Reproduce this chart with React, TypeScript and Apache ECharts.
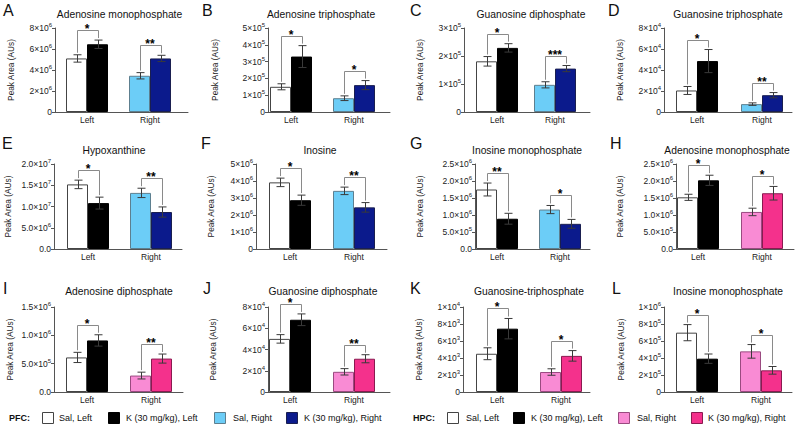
import React, { useEffect, useRef } from 'react';
import * as echarts from 'echarts';

// ---------- data ----------
const panelLetters = ['A', 'B', 'C', 'D', 'E', 'F', 'G', 'H', 'I', 'J', 'K', 'L'];
const panelTitles = [
  'Adenosine monophosphate', 'Adenosine triphosphate', 'Guanosine diphosphate', 'Guanosine triphosphate',
  'Hypoxanthine', 'Inosine', 'Inosine monophosphate', 'Adenosine monophosphate',
  'Adenosine diphosphate', 'Guanosine diphosphate', 'Guanosine-triphosphate', 'Inosine monophosphate',
];
// region per panel: PFC (blue) or HPC (pink)
const panelRegion = ['PFC', 'PFC', 'PFC', 'PFC', 'PFC', 'PFC', 'PFC', 'HPC', 'HPC', 'HPC', 'HPC', 'HPC'];
const categories = ['Left', 'Right'];

const salLeft = [5.1e6, 1.5e5, 1.81e5, 2.05e4, 1.52e7, 3.92e6, 1.75e6, 1.52e6, 6.1e5, 5.0e4, 4.5e3, 6.98e5];
const salLeftErr = [0.35e6, 0.18e5, 0.17e5, 0.38e4, 0.1e7, 0.25e6, 0.19e6, 0.09e6, 0.9e5, 0.4e4, 0.7e3, 0.95e5];
const kLeft = [6.45e6, 3.3e5, 2.29e5, 4.85e4, 1.08e7, 2.87e6, 0.89e6, 2.02e6, 9.1e5, 6.8e4, 7.45e3, 3.92e5];
const kLeftErr = [0.4e6, 0.65e5, 0.15e5, 1.1e4, 0.14e7, 0.3e6, 0.16e6, 0.15e6, 1.0e5, 0.55e4, 1.2e3, 0.55e5];
const salRight = [3.45e6, 0.82e5, 0.97e5, 0.75e4, 1.32e7, 3.42e6, 1.16e6, 1.09e6, 2.9e5, 1.9e4, 2.35e3, 4.78e5];
const salRightErr = [0.3e6, 0.14e5, 0.11e5, 0.12e4, 0.11e7, 0.22e6, 0.12e6, 0.11e6, 0.6e5, 0.3e4, 0.38e3, 0.8e5];
const kRight = [5.1e6, 1.6e5, 1.55e5, 1.6e4, 0.87e7, 2.45e6, 0.74e6, 1.64e6, 5.9e5, 3.13e4, 4.25e3, 2.55e5];
const kRightErr = [0.3e6, 0.27e5, 0.11e5, 0.25e4, 0.12e7, 0.28e6, 0.13e6, 0.2e6, 0.8e5, 0.38e4, 0.62e3, 0.45e5];

const starsLeft = [1, 1, 1, 1, 1, 1, 2, 1, 1, 1, 1, 1];
const starsRight = [2, 1, 3, 2, 2, 2, 1, 1, 2, 2, 1, 1];

const yMax = [8e6, 5e5, 3e5, 8e4, 2e7, 5e6, 2.5e6, 2.5e6, 1.5e6, 8e4, 1e4, 1e6];
const yInterval = [2e6, 1e5, 1e5, 2e4, 5e6, 1e6, 5e5, 5e5, 5e5, 2e4, 2e3, 2e5];
const tickLabels = [
  ['0', '2×10^6', '4×10^6', '6×10^6', '8×10^6'],
  ['0', '1×10^5', '2×10^5', '3×10^5', '4×10^5', '5×10^5'],
  ['0', '1×10^5', '2×10^5', '3×10^5'],
  ['0', '2×10^4', '4×10^4', '6×10^4', '8×10^4'],
  ['0.0', '5.0×10^6', '1.0×10^7', '1.5×10^7', '2.0×10^7'],
  ['0', '1×10^6', '2×10^6', '3×10^6', '4×10^6', '5×10^6'],
  ['0.0', '5.0×10^5', '1.0×10^6', '1.5×10^6', '2.0×10^6', '2.5×10^6'],
  ['0.0', '5.0×10^5', '1.0×10^6', '1.5×10^6', '2.0×10^6', '2.5×10^6'],
  ['0.0', '5.0×10^5', '1.0×10^6', '1.5×10^6'],
  ['0', '2×10^4', '4×10^4', '6×10^4', '8×10^4'],
  ['0', '2×10^3', '4×10^3', '6×10^3', '8×10^3', '1×10^4'],
  ['0', '2×10^5', '4×10^5', '6×10^5', '8×10^5', '1×10^6'],
];
const yAxisName = 'Peak Area (AUs)';
const legendLabels = ['Sal, Left', 'K (30 mg/kg), Left', 'Sal, Right', 'K (30 mg/kg), Right'];

// ---------- layout / style ----------
const FONT = '"Liberation Sans", Arial, Helvetica, sans-serif';
const BAR_W = 21;
const CAP = 4;
const rows = [
  { top: 28, bottom: 112, titleY: 14, letterY: 10 },
  { top: 164, bottom: 249, titleY: 150, letterY: 143 },
  { top: 307, bottom: 392, titleY: 291, letterY: 288 },
];
// ax: y-axis x, end: x-axis end, l/r: group centers, nx: y-name center x, tx: title center x, lx: letter left x
const layout = [
  { ax: 55, end: 188, l: 87, r: 150, nx: 10.5, tx: 119.5, lx: 3 },
  { ax: 268, end: 390, l: 291, r: 354, nx: 214, tx: 321, lx: 202 },
  { ax: 464, end: 590, l: 497, r: 555, nx: 419.5, tx: 531, lx: 410 },
  { ax: 664, end: 792, l: 697, r: 762, nx: 619, tx: 728, lx: 608 },
  { ax: 54, end: 182, l: 88, r: 151, nx: 7.5, tx: 114, lx: 2 },
  { ax: 256, end: 387, l: 290, r: 354, nx: 210.5, tx: 320, lx: 201 },
  { ax: 475, end: 590, l: 497, r: 560, nx: 419.5, tx: 527, lx: 410 },
  { ax: 676, end: 794, l: 698, r: 762, nx: 619.5, tx: 727, lx: 610 },
  { ax: 54, end: 183, l: 87, r: 151, nx: 9.5, tx: 119, lx: 3 },
  { ax: 268, end: 390, l: 290, r: 354, nx: 212.5, tx: 323, lx: 203 },
  { ax: 463, end: 590, l: 497, r: 561, nx: 418, tx: 529, lx: 410 },
  { ax: 664, end: 792, l: 697, r: 761, nx: 620, tx: 728, lx: 612 },
];
const colors = {
  PFC: { salL: '#ffffff', kL: '#000000', salR: '#6ccdf7', kR: '#0b1a8c' },
  HPC: { salL: '#ffffff', kL: '#000000', salR: '#f98bd4', kR: '#f4318c' },
};
const borders = {
  PFC: { salL: '#444', kL: '#000', salR: '#5d7f8f', kR: '#1a1f50' },
  HPC: { salL: '#444', kL: '#000', salR: '#9a4a80', kR: '#8a1a50' },
};
const AXIS_COLOR = '#555555';
const TEXT_COLOR = '#222';

function buildPanel(p: number) {
  const lay = layout[p];
  const row = rows[Math.floor(p / 4)];
  const h = row.bottom - row.top;
  const reg = panelRegion[p] as 'PFC' | 'HPC';
  const col = colors[reg];
  const bor = borders[reg];
  const band = lay.r - lay.l;
  const labels = tickLabels[p];
  const interval = yInterval[p];

  const grid = [
    { left: lay.ax, top: row.top, width: lay.end - lay.ax, height: h },
    { left: lay.l - band / 2, top: row.top, width: band * 2, height: h },
  ];
  const xAxis = [
    {
      gridIndex: 0, type: 'value', min: 0, max: 1, show: true,
      axisLine: { show: true, onZero: false, lineStyle: { color: AXIS_COLOR, width: 1, opacity: 1 } },
      axisTick: { show: false }, axisLabel: { show: false }, splitLine: { show: false },
    },
    {
      gridIndex: 1, type: 'category', data: categories,
      axisLine: { show: false }, axisTick: { show: false }, splitLine: { show: false },
      axisLabel: { show: true, fontSize: 8.5, fontFamily: FONT, color: TEXT_COLOR, margin: 3.5 },
    },
  ];
  const yAxis = [
    {
      gridIndex: 0, type: 'value', min: 0, max: yMax[p], interval, show: true,
      axisLine: { show: true, onZero: false, lineStyle: { color: AXIS_COLOR, width: 1, opacity: 1 } },
      axisTick: { show: true, length: 3, lineStyle: { color: AXIS_COLOR } },
      splitLine: { show: false },
      name: yAxisName, nameLocation: 'middle', nameGap: lay.ax - lay.nx - 4.5,
      nameTextStyle: { fontSize: 8.3, fontFamily: FONT, color: TEXT_COLOR },
      axisLabel: {
        margin: 3, showMinLabel: true, showMaxLabel: true, hideOverlap: false,
        formatter: (v: number) => {
          const s = labels[Math.round(v / interval)] ?? '';
          const parts = s.split('^');
          return parts.length > 1 ? `{m|${parts[0]}}{e|${parts[1]}}` : `{m|${parts[0]}}`;
        },
        rich: {
          m: { fontSize: 8.5, fontFamily: FONT, color: TEXT_COLOR, lineHeight: 12 },
          e: { fontSize: 6, fontFamily: FONT, color: TEXT_COLOR, verticalAlign: 'top' },
        },
      },
    },
    { gridIndex: 1, type: 'value', min: 0, max: yMax[p], show: false, splitLine: { show: false } },
  ];
  const series: any[] = [
    {
      type: 'line', xAxisIndex: 0, yAxisIndex: 0, data: [[0, 0]], symbol: 'none', silent: true,
      lineStyle: { opacity: 0 },
    },
    {
      type: 'bar', name: 'Sal', xAxisIndex: 1, yAxisIndex: 1, barWidth: BAR_W, barGap: '0%',
      data: [
        { value: salLeft[p], itemStyle: { color: col.salL, borderColor: bor.salL, borderWidth: 1 } },
        { value: salRight[p], itemStyle: { color: col.salR, borderColor: bor.salR, borderWidth: 1 } },
      ],
    },
    {
      type: 'bar', name: 'K (30 mg/kg)', xAxisIndex: 1, yAxisIndex: 1, barWidth: BAR_W, barGap: '0%',
      data: [
        { value: kLeft[p], itemStyle: { color: col.kL, borderColor: bor.kL, borderWidth: 1 } },
        { value: kRight[p], itemStyle: { color: col.kR, borderColor: bor.kR, borderWidth: 1 } },
      ],
    },
    {
      type: 'custom', xAxisIndex: 1, yAxisIndex: 1, z: 5, silent: true,
      data: [
        [0, salLeft[p], salLeftErr[p], -1],
        [0, kLeft[p], kLeftErr[p], 1],
        [1, salRight[p], salRightErr[p], -1],
        [1, kRight[p], kRightErr[p], 1],
      ],
      renderItem: (_params: any, api: any) => {
        const c = api.value(0), m = api.value(1), e = api.value(2), side = api.value(3);
        const top = api.coord([c, m + e]);
        const bot = api.coord([c, m - e]);
        const x = Math.round(top[0] + side * BAR_W / 2) + 0.5;
        const st = { stroke: '#3a3a3a', lineWidth: 1 };
        return {
          type: 'group',
          children: [
            { type: 'line', shape: { x1: x, y1: top[1], x2: x, y2: bot[1] }, style: st },
            { type: 'line', shape: { x1: x - CAP, y1: top[1], x2: x + CAP, y2: top[1] }, style: st },
            { type: 'line', shape: { x1: x - CAP, y1: bot[1], x2: x + CAP, y2: bot[1] }, style: st },
          ],
        };
      },
    },
    {
      type: 'custom', xAxisIndex: 1, yAxisIndex: 1, z: 6, silent: true,
      data: [
        [0, salLeft[p] + salLeftErr[p], kLeft[p] + kLeftErr[p], starsLeft[p]],
        [1, salRight[p] + salRightErr[p], kRight[p] + kRightErr[p], starsRight[p]],
      ],
      renderItem: (_params: any, api: any) => {
        const c = api.value(0);
        const pa = api.coord([c, api.value(1)]);
        const pb = api.coord([c, api.value(2)]);
        const n = api.value(3);
        const xa = Math.round(pa[0] - BAR_W / 2) + 0.5;
        const xb = Math.round(pa[0] + BAR_W / 2) + 0.5;
        const yb = Math.round(Math.min(pa[1], pb[1]) - 10) + 0.5;
        return {
          type: 'group',
          children: [
            {
              type: 'polyline',
              shape: { points: [[xa, pa[1] - 2], [xa, yb], [xb, yb], [xb, pb[1] - 2]] },
              style: { stroke: '#8a8a8a', fill: null, lineWidth: 1 },
            },
            {
              type: 'text', x: pa[0], y: yb - 2,
              style: {
                text: '*'.repeat(n), textAlign: 'center', textVerticalAlign: 'middle',
                fontSize: 12, fontWeight: 'bold', fontFamily: FONT, fill: '#000',
              },
            },
          ],
        };
      },
    },
  ];
  const graphic = [
    {
      type: 'text', x: lay.tx, y: row.titleY,
      style: { text: panelTitles[p], textAlign: 'center', textVerticalAlign: 'middle', fontSize: 10.3, fontFamily: FONT, fill: '#111' },
    },
    {
      type: 'text', x: lay.lx, y: row.letterY,
      style: { text: panelLetters[p], textAlign: 'left', textVerticalAlign: 'middle', fontSize: 16, fontFamily: FONT, fill: '#111' },
    },
  ];
  return { animation: false, textStyle: { fontFamily: FONT }, grid, xAxis, yAxis, series, graphic };
}

function buildLegend() {
  const graphic: any[] = [];
  const legendY = 418;
  const addLegend = (label: string, x0: number, boxXs: number[], textXs: number[], fills: string[], strokes: string[]) => {
    graphic.push({
      type: 'text', x: x0, y: legendY,
      style: { text: label, textAlign: 'left', textVerticalAlign: 'middle', fontSize: 9, fontWeight: 'bold', fontFamily: FONT, fill: '#111' },
    });
    legendLabels.forEach((t, i) => {
      graphic.push({
        type: 'rect', shape: { x: boxXs[i] + 0.5, y: legendY - 5.5, width: 11, height: 11 },
        style: { fill: fills[i], stroke: strokes[i], lineWidth: 1 },
      });
      graphic.push({
        type: 'text', x: textXs[i], y: legendY,
        style: { text: t, textAlign: 'left', textVerticalAlign: 'middle', fontSize: 9, fontFamily: FONT, fill: '#111' },
      });
    });
  };
  const pc = colors.PFC, pb = borders.PFC, hc = colors.HPC, hb = borders.HPC;
  addLegend('PFC:', 9, [42, 108, 214, 286], [59, 126, 233, 304],
    [pc.salL, pc.kL, pc.salR, pc.kR], [pb.salL, pb.kL, pb.salR, pb.kR]);
  addLegend('HPC:', 413, [447, 513, 618, 691], [466, 531, 637, 708],
    [hc.salL, hc.kL, hc.salR, hc.kR], [hb.salL, hb.kL, hb.salR, hb.kR]);
  return { animation: false, graphic };
}

function ChartLayer({ option }: { option: any }) {
  const ref = useRef<HTMLDivElement>(null);
  useEffect(() => {
    if (!ref.current) return;
    const chart = echarts.init(ref.current, undefined, { renderer: 'svg' });
    chart.setOption(option);
    return () => chart.dispose();
  }, []);
  return (
    <div
      ref={ref}
      style={{ position: 'fixed', left: 0, top: 0, width: 795, height: 431, pointerEvents: 'none' }}
    />
  );
}

export default function App() {
  return (
    <div style={{ position: 'fixed', left: 0, top: 0, width: 795, height: 431, background: '#fff' }}>
      {layout.map((_, p) => (
        <ChartLayer key={p} option={buildPanel(p)} />
      ))}
      <ChartLayer option={buildLegend()} />
    </div>
  );
}
